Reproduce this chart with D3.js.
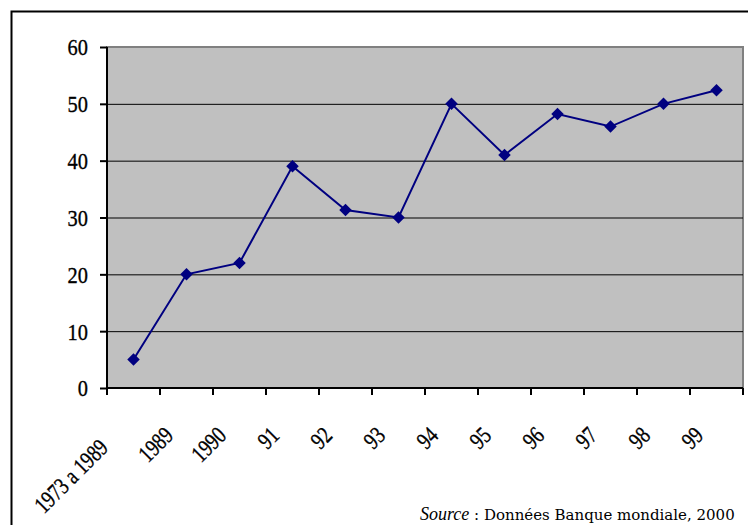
<!DOCTYPE html>
<html>
<head>
<meta charset="utf-8">
<script src="https://cdn.jsdelivr.net/npm/d3@7"></script>
<style>
  body { margin: 0; background: #fff; }
  svg { display: block; }
  .axis text { font-family: "Liberation Serif", "DejaVu Serif", serif; fill: #000; stroke: #000; stroke-width: 0.35; }
  .axis path { display: none; }
</style>
</head>
<body>
<svg id="chart"></svg>
<script>
// categories along the x axis
const years = ["1973 a 1989", "1989", "1990", "91", "92", "93", "94", "95", "96", "97", "98", "99"];
// series values
const values = [5, 20, 22, 39, 31.3, 30, 50, 41, 48.2, 46, 50, 52.4];
// y axis ticks
const yTicks = [0, 10, 20, 30, 40, 50, 60];

const width = 748, height = 525;
const margin = {top: 47, right: 5, bottom: 137, left: 107};
const innerW = width - margin.left - margin.right;
const innerH = height - margin.top - margin.bottom;

const svg = d3.select("#chart").attr("width", width).attr("height", height);

// outer frame (only top and left edges are in the crop)
svg.append("path")
  .attr("d", `M11.5,${height} V11.5 H${width}`)
  .attr("fill", "none").attr("stroke", "#000").attr("stroke-width", 2);

const chart = svg.append("g").attr("transform", `translate(${margin.left},${margin.top})`);

const x = d3.scaleBand().domain(years).range([0, innerW]);
const y = d3.scaleLinear().domain([0, 60]).range([innerH, 0]);

// grey plot area
chart.append("rect")
  .attr("width", innerW).attr("height", innerH)
  .attr("fill", "#c0c0c0").attr("stroke", "#808080").attr("stroke-width", 2);

// horizontal gridlines
chart.selectAll(".grid")
  .data(yTicks.filter(d => d > 0 && d < 60))
  .enter().append("line")
  .attr("class", "grid")
  .attr("x1", 0).attr("x2", innerW)
  .attr("y1", d => y(d) + 0.5).attr("y2", d => y(d) + 0.5)
  .attr("stroke", "#000").attr("stroke-width", 1);

// y axis
const yAxisG = chart.append("g").attr("class", "axis")
  .call(d3.axisLeft(y).tickValues(yTicks).tickSize(7).tickPadding(12));
yAxisG.selectAll("line").attr("stroke", "#000").attr("stroke-width", 2);
yAxisG.selectAll("text")
  .attr("font-size", 24)
  .attr("dy", "0.33em")
  .attr("transform", function() { return `translate(${d3.select(this).attr("x")},0) scale(0.85,1)`; })
  .attr("x", 0);

// x axis: ticks sit on the band edges, labels are rotated
const edges = d3.range(years.length + 1).map(i => i * x.step());
chart.selectAll(".xtick")
  .data(edges)
  .enter().append("line")
  .attr("class", "xtick")
  .attr("x1", d => d).attr("x2", d => d)
  .attr("y1", innerH).attr("y2", innerH + 7)
  .attr("stroke", "#000").attr("stroke-width", 2);

const xAxisG = chart.append("g").attr("class", "axis")
  .attr("transform", `translate(0,${innerH})`)
  .call(d3.axisBottom(x).tickSize(0));
xAxisG.selectAll("text")
  .attr("font-size", 24)
  .attr("text-anchor", "end")
  .attr("y", 0).attr("dy", 0)
  .attr("dx", (d, i) => i === 0 ? -22 : 0)
  .attr("transform", "translate(-12,49) rotate(-45) scale(0.78,1)");

// left and bottom axis lines
chart.append("line").attr("x1", 0).attr("x2", 0).attr("y1", 0).attr("y2", innerH)
  .attr("stroke", "#000").attr("stroke-width", 2);
chart.append("line").attr("x1", 0).attr("x2", innerW).attr("y1", innerH).attr("y2", innerH)
  .attr("stroke", "#000").attr("stroke-width", 2);

// series line
const line = d3.line()
  .x((d, i) => x(years[i]) + x.bandwidth() / 2)
  .y(d => y(d));
chart.append("path")
  .datum(values)
  .attr("d", line)
  .attr("fill", "none").attr("stroke", "#000080").attr("stroke-width", 2);

// diamond markers
const diamond = d3.symbol().type(d3.symbolDiamond2).size(100);
chart.selectAll(".marker")
  .data(values)
  .enter().append("path")
  .attr("class", "marker")
  .attr("d", diamond)
  .attr("transform", (d, i) => `translate(${x(years[i]) + x.bandwidth() / 2},${y(d)})`)
  .attr("fill", "#000080");

// source note
const note = svg.append("text")
  .attr("x", 420).attr("y", 520)
  .attr("fill", "#000");
note.append("tspan")
  .attr("font-family", "Liberation Serif, serif")
  .attr("font-style", "italic").attr("font-size", 18)
  .text("Source");
note.append("tspan")
  .attr("font-family", "DejaVu Serif, serif").attr("font-size", 15)
  .text(" : Données Banque mondiale, 2000");
</script>
</body>
</html>
